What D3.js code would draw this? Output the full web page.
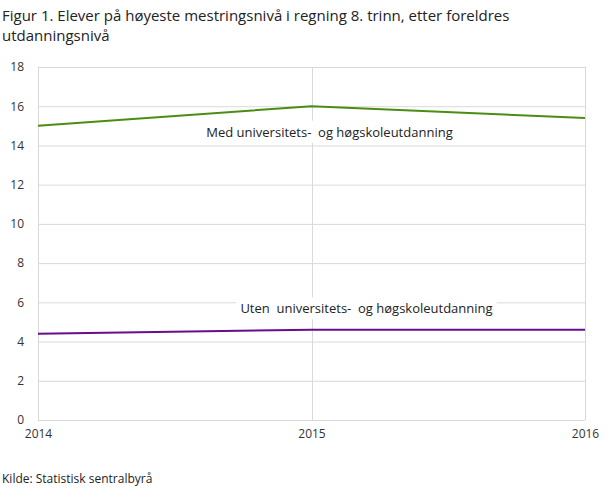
<!DOCTYPE html>
<html>
<head>
<meta charset="utf-8">
<script src="https://cdn.jsdelivr.net/npm/d3@7"></script>
<style>
  body { margin: 0; background: #fff; }
  #chart { width: 609px; height: 488px; }
  text { font-family: "Open Sans", sans-serif; }
</style>
</head>
<body>
<div id="chart"></div>
<script>
// data
const years = [2014, 2015, 2016];
const medUni = [15.0, 16.0, 15.4];
const utenUni = [4.4, 4.6, 4.6];
const yTicks = [0, 2, 4, 6, 8, 10, 12, 14, 16, 18];
const seriesNames = ['Med universitets-  og høgskoleutdanning', 'Uten  universitets-  og høgskoleutdanning'];
const titleLines = ['Figur 1. Elever på høyeste mestringsnivå i regning 8. trinn, etter foreldres', 'utdanningsnivå'];

const width = 609, height = 488;
const margin = { top: 67, right: 24, bottom: 68, left: 38 };

const svg = d3.select('#chart').append('svg')
    .attr('width', width)
    .attr('height', height);

// title
svg.append('g').selectAll('text')
    .data(titleLines)
    .enter().append('text')
    .attr('x', 2)
    .attr('y', (d, i) => 21 + i * 20)
    .attr('font-size', 15)
    .attr('fill', '#222')
    .text(d => d);

const x = d3.scaleLinear()
    .domain([2014, 2016])
    .range([margin.left, width - margin.right]);

const y = d3.scaleLinear()
    .domain([0, 18])
    .range([height - margin.bottom, margin.top]);

// gridlines
svg.append('g').selectAll('line')
    .data(yTicks)
    .enter().append('line')
    .attr('x1', margin.left)
    .attr('x2', width - margin.right)
    .attr('y1', d => y(d) + 0.5)
    .attr('y2', d => y(d) + 0.5)
    .attr('stroke', '#d9d9d9');

svg.append('g').selectAll('line')
    .data(years)
    .enter().append('line')
    .attr('x1', d => Math.round(x(d)) + 0.5)
    .attr('x2', d => Math.round(x(d)) + 0.5)
    .attr('y1', margin.top)
    .attr('y2', height - margin.bottom)
    .attr('stroke', '#d9d9d9');

// axes
const yAxis = svg.append('g')
    .attr('transform', `translate(${margin.left - 14},0)`)
    .call(d3.axisLeft(y).tickValues(yTicks).tickSize(0).tickPadding(0));
yAxis.select('.domain').remove();
yAxis.selectAll('text')
    .attr('font-family', '"Open Sans", sans-serif')
    .attr('font-size', 12)
    .attr('fill', '#333');

const xAxis = svg.append('g')
    .attr('transform', `translate(0,${height - margin.bottom + 9})`)
    .call(d3.axisBottom(x).tickValues(years).tickFormat(d3.format('d')).tickSize(0).tickPadding(0));
xAxis.select('.domain').remove();
xAxis.selectAll('text')
    .attr('font-family', '"Open Sans", sans-serif')
    .attr('font-size', 12)
    .attr('fill', '#333');

// lines
const line = d3.line()
    .x((d, i) => x(years[i]))
    .y(d => y(d));

svg.append('path')
    .datum(utenUni)
    .attr('d', line)
    .attr('fill', 'none')
    .attr('stroke', '#6a0d8c')
    .attr('stroke-width', 2);

svg.append('path')
    .datum(medUni)
    .attr('d', line)
    .attr('fill', 'none')
    .attr('stroke', '#4b8d12')
    .attr('stroke-width', 2);

// series labels with white boxes
const labels = [
    { text: seriesNames[0], cx: x(2015) + 18, cy: y(medUni[1]) + 27 },
    { text: seriesNames[1], cx: x(2015) + 55, cy: y(utenUni[1]) - 20 }
];

labels.forEach(l => {
    const g = svg.append('g');
    const t = g.append('text')
        .attr('x', l.cx)
        .attr('y', l.cy)
        .attr('text-anchor', 'middle')
        .attr('dominant-baseline', 'middle')
        .attr('font-size', 13)
        .attr('fill', '#222')
        .style('white-space', 'pre')
        .text(l.text);
    const bb = t.node().getBBox();
    g.insert('rect', 'text')
        .attr('x', bb.x - 4)
        .attr('y', bb.y - 2)
        .attr('width', bb.width + 8)
        .attr('height', bb.height + 4)
        .attr('fill', '#fff');
});

// source
svg.append('text')
    .attr('x', 2)
    .attr('y', 483)
    .attr('font-size', 12)
    .attr('fill', '#222')
    .text('Kilde: Statistisk sentralbyrå');
</script>
</body>
</html>
